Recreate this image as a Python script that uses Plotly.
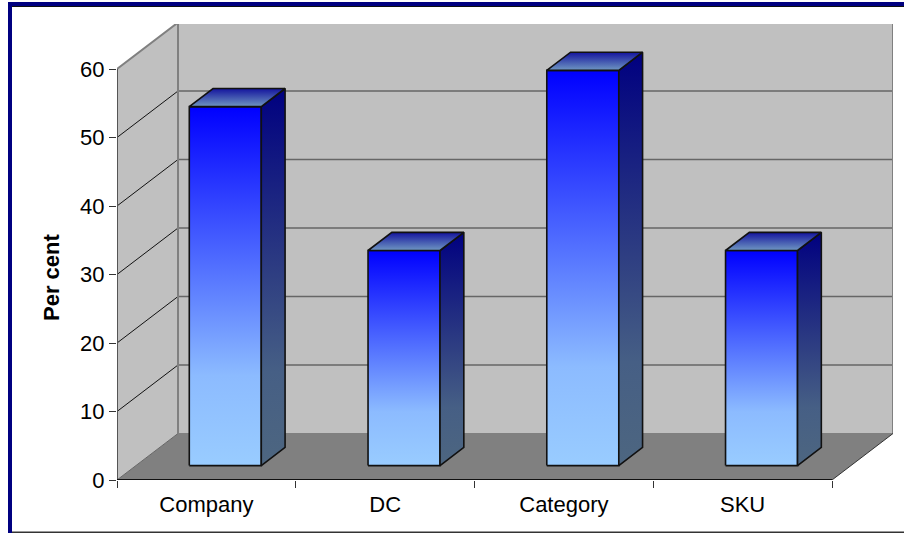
import plotly.graph_objects as go

categories = ["Company", "DC", "Category", "SKU"]
per_cent = [52.4, 31.4, 57.7, 31.4]
y_ticks = [0, 10, 20, 30, 40, 50, 60]
y_axis_title = "Per cent"

# figure geometry, in pixels
W, H = 904, 533
L, R, T, B = 117, 893, 24, 480
PX_PER_CAT = 178.75
PX_PER_UNIT = 6.85
# oblique projection of depth, in axis units
DX = 61 / PX_PER_CAT
DY = 46.5 / PX_PER_UNIT
BAR_W = 72 / PX_PER_CAT
D0, D1 = 0.31, 0.70
n = len(categories)
top = y_ticks[-1]


def proj(x, y, d):
    return x + d * DX, y + d * DY


def poly(pts):
    xs, ys = zip(*pts)
    return list(xs) + [xs[0]], list(ys) + [ys[0]]


fig = go.Figure()


def face(pts, fill, line=None, lw=0):
    xs, ys = poly(pts)
    fig.add_trace(go.Scatter(x=xs, y=ys, mode="lines", fill="toself", fillcolor=fill,
                             line=dict(color=line or fill, width=lw), hoverinfo="skip",
                             showlegend=False))


def seg(x, y, color, lw):
    fig.add_trace(go.Scatter(x=x, y=y, mode="lines", line=dict(color=color, width=lw),
                             hoverinfo="skip", showlegend=False, cliponaxis=False))


def grad_face(pts, scale, line="#111"):
    xs, ys = poly(pts)
    fig.add_trace(go.Scatter(
        x=xs, y=ys, mode="lines", fill="toself",
        fillgradient=dict(type="vertical", colorscale=scale),
        line=dict(color=line, width=1.6), hoverinfo="skip", showlegend=False))


# walls and floor
wall = "#C0C0C0"
face([proj(0, 0, 1), proj(n, 0, 1), proj(n, top, 1), proj(0, top, 1)], wall)
face([proj(0, 0, 0), proj(0, 0, 1), proj(0, top, 1), proj(0, top, 0)], wall)
face([proj(0, 0, 0), proj(n, 0, 0), proj(n, 0, 1), proj(0, 0, 1)], "#808080")

# gridlines: back wall and left wall
for v in y_ticks[1:-1]:
    a, b = proj(0, v, 1), proj(n, v, 1)
    seg([a[0], b[0]], [a[1], b[1]], "#666666", 1.6)
    c = proj(0, v, 0)
    seg([c[0], a[0]], [c[1], a[1]], "#111111", 1)

# wall outlines
p = [proj(0, top, 0), proj(0, top, 1), proj(n, top, 1), proj(n, 0, 1)]
seg([q[0] for q in p], [q[1] for q in p], "#808080", 2)
a, b = proj(0, 0, 1), proj(0, top, 1)
seg([a[0], b[0]], [a[1], b[1]], "#808080", 2)
a = proj(n, 0, 1)
b = proj(0, 0, 1)
seg([a[0], b[0]], [a[1], b[1]], "#808080", 1)
a = proj(0, 0, 1)
seg([0, a[0]], [0, a[1]], "#666666", 1)
a = proj(n, 0, 1)
seg([n, a[0]], [0, a[1]], "#333333", 1)

# axes lines
seg([0, 0], [0, top], "#555555", 2)
seg([0, n], [0, 0], "#111111", 2)

# bar face colour ramps (0 = bottom of the face, 1 = top)
front = [[0, "#99CCFF"], [0.25, "#8CBBFF"], [0.5, "#5C7DFF"], [1, "#0000FF"]]
side = [[0, "#4D6680"], [0.25, "#465F85"], [0.5, "#2F3F82"], [1, "#000080"]]
lid = [[0, "#6F97C2"], [1, "#14149E"]]

# bars
for i, v in enumerate(per_cent):
    x0 = i + 0.5 - BAR_W / 2
    x1 = i + 0.5 + BAR_W / 2
    f00, f10 = proj(x0, 0, D0), proj(x1, 0, D0)
    f01, f11 = proj(x0, v, D0), proj(x1, v, D0)
    b10, b01, b11 = proj(x1, 0, D1), proj(x0, v, D1), proj(x1, v, D1)
    grad_face([f00, f10, f11, f01], front)
    grad_face([f10, b10, b11, f11], side)
    grad_face([f01, f11, b11, b01], lid)

fig.update_layout(
    width=W, height=H,
    margin=dict(l=L, r=W - R, t=T, b=H - B, pad=0),
    paper_bgcolor="white", plot_bgcolor="white",
    showlegend=False,
    font=dict(family="Liberation Sans, Arial, sans-serif", size=22, color="black"),
    xaxis=dict(range=[0, (R - L) / PX_PER_CAT], tickvals=[i + 0.5 for i in range(n)],
               ticktext=categories, ticks="", showgrid=False, zeroline=False, showline=False,
               tickfont=dict(size=22), ticklabelstandoff=9,
               minor=dict(tickvals=list(range(n + 1)), ticks="outside", ticklen=7,
                          tickwidth=1, tickcolor="#333333", showgrid=False)),
    yaxis=dict(range=[0, (B - T) / PX_PER_UNIT], tickvals=y_ticks, ticks="outside", ticklen=7,
               tickwidth=1, tickcolor="#333333", showgrid=False, zeroline=False, showline=False,
               tickfont=dict(size=22)),
)


def xp(px):
    return (px - L) / (R - L)


def yp(py):
    return (B - py) / (B - T)


fig.add_annotation(text="<b>%s</b>" % y_axis_title, xref="paper", yref="paper",
                   x=xp(51), y=yp(278), xanchor="center", yanchor="middle",
                   showarrow=False, textangle=-90,
                   font=dict(size=22, color="black"))

# frame round the chart
for x0, y0, x1, y1, c in [(8, 2, 904, 6, "#000080"), (8, 2, 12, 533, "#000080"),
                          (12, 6, 904, 7, "#111111"), (12, 531.5, 904, 533, "#333333")]:
    fig.add_shape(type="rect", xref="paper", yref="paper", x0=xp(x0), x1=xp(x1),
                  y0=yp(y0), y1=yp(y1), fillcolor=c, line_width=0)

fig.write_html("out.html", config={"displayModeBar": False},
               post_script="document.body.style.margin='0';document.body.style.overflow='hidden';")
